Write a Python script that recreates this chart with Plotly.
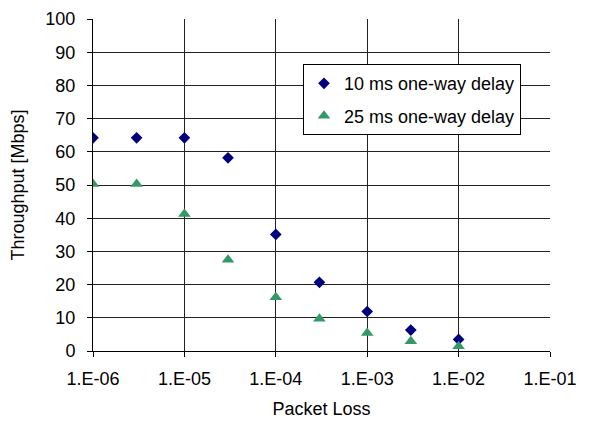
import plotly.graph_objects as go

packet_loss = [1e-6, 3e-6, 1e-5, 3e-5, 1e-4, 3e-4, 1e-3, 3e-3, 1e-2]
tput_10ms = [64.2, 64.2, 64.2, 58.2, 35.1, 20.7, 11.9, 6.3, 3.5]
tput_25ms = [50.3, 50.3, 41.3, 27.5, 16.2, 9.7, 5.4, 2.9, 1.4]
x_tickvals = [1e-6, 1e-5, 1e-4, 1e-3, 1e-2, 1e-1]
x_ticktext = ["1.E-06", "1.E-05", "1.E-04", "1.E-03", "1.E-02", "1.E-01"]
y_tickvals = list(range(0, 101, 10))

FONT = "Liberation Sans, Arial, sans-serif"

fig = go.Figure()
fig.add_trace(go.Scatter(x=packet_loss, y=tput_10ms, mode="markers",
                         name="10 ms one-way delay", legendgroup="a",
                         marker=dict(symbol="diamond", size=9, color="#000080")))
fig.add_trace(go.Scatter(x=packet_loss, y=tput_25ms, mode="markers",
                         name="25 ms one-way delay", legendgroup="b",
                         marker=dict(symbol="triangle-up", size=11, color="#339966")))

fig.update_layout(
    width=613, height=421,
    margin=dict(l=85, r=71, t=11, b=78),
    paper_bgcolor="white", plot_bgcolor="white",
    font=dict(family=FONT, size=18, color="black"),
    showlegend=True,
    legend=dict(x=0.4595, y=0.864, xanchor="left", yanchor="top",
                bgcolor="white", bordercolor="black", borderwidth=1,
                font=dict(family=FONT, size=18),
                traceorder="grouped", tracegroupgap=6,
                itemwidth=30),
    xaxis=dict(type="log", range=[-6, -1], tickvals=x_tickvals, ticktext=x_ticktext,
               showgrid=True, gridcolor="#222222", gridwidth=1,
               showline=True, linecolor="black", linewidth=1,
               ticks="outside", ticklen=5, tickcolor="black",
               ticklabelstandoff=6, ticklabeloverflow="allow",
               zeroline=False, automargin=False,
               title=dict(text="Packet Loss", font=dict(size=18), standoff=14),
               tickfont=dict(size=18)),
    yaxis=dict(range=[0, 100], tickvals=y_tickvals,
               showgrid=True, gridcolor="#222222", gridwidth=1,
               showline=True, linecolor="black", linewidth=1,
               ticks="outside", ticklen=5, tickcolor="black",
               ticklabelstandoff=8, ticklabeloverflow="allow",
               zeroline=False, automargin=False,
               title=dict(text="Throughput [Mbps]", font=dict(size=18), standoff=22),
               tickfont=dict(size=18)),
)

fig.write_html("out.html")
